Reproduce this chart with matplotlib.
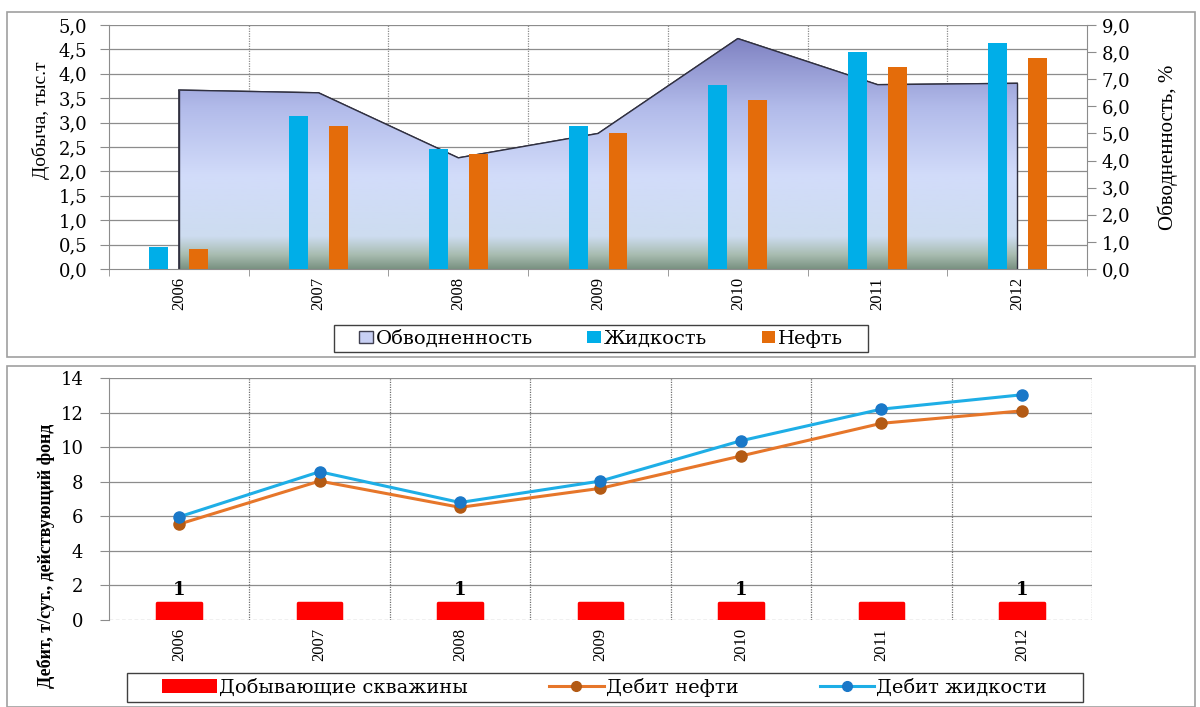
import matplotlib.pyplot as plt
import numpy as np
from matplotlib.colors import LinearSegmentedColormap
from matplotlib.patches import Rectangle, Patch
from matplotlib.lines import Line2D

plt.rcParams['font.family'] = ['Liberation Serif', 'DejaVu Serif']
NARROW = ['Liberation Serif', 'DejaVu Serif']  # повёрнутые надписи
WIDE = ['DejaVu Serif', 'Liberation Serif']    # горизонтальные надписи в оригинале растянуты

years = ['2006', '2007', '2008', '2009', '2010', '2011', '2012']
zhidkost = [0.45, 3.13, 2.45, 2.94, 3.77, 4.44, 4.64]     # тыс.т
neft = [0.42, 2.94, 2.36, 2.78, 3.46, 4.13, 4.32]          # тыс.т
obvod = [6.6, 6.5, 4.1, 5.0, 8.5, 6.8, 6.85]               # %

debit_zhid = [5.97, 8.58, 6.8, 8.04, 10.37, 12.2, 13.03]
debit_neft = [5.55, 8.04, 6.52, 7.62, 9.49, 11.38, 12.1]
skvazhiny = [1, 1, 1, 1, 1, 1, 1]

fig = plt.figure(figsize=(12, 7.07), dpi=100)
x = np.arange(len(years))

# рамки двух диаграмм и их легенд
def frame(x0, y0, w, h, color, lw):
    fig.patches.append(Rectangle((x0, y0), w, h, transform=fig.transFigure,
                                 fill=False, ec=color, lw=lw, zorder=5))

frame(0.006, 0.495, 0.99, 0.488, '#a0a0a0', 1.2)
frame(0.006, 0.0, 0.99, 0.483, '#a0a0a0', 1.2)
frame(0.2783, 0.5021, 0.445, 0.0382, '#404040', 1.0)
frame(0.1058, 0.0071, 0.7967, 0.041, '#404040', 1.0)

# ---------- верхняя диаграмма ----------
ax = fig.add_axes([0.0908, 0.6195, 0.8152, 0.3451])
ax2 = ax.twinx()
ax.set_zorder(2)
ax.patch.set_visible(False)

grad = LinearSegmentedColormap.from_list('g', [
    (0.0, '#7a9282'), (0.06, '#a8bcb0'), (0.14, '#cddcf0'),
    (0.4, '#d2dcfa'), (0.7, '#b2bbea'), (1.0, '#7f82c2')])
poly = ax2.fill_between(x, obvod, 0, color='none', ec='#303040', lw=1.0)
img = ax2.imshow(np.linspace(0, 1, 256).reshape(-1, 1), cmap=grad, aspect='auto',
                 origin='lower', extent=[x[0], x[-1], 0, max(obvod)], zorder=1)
img.set_clip_path(poly.get_paths()[0], transform=ax2.transData)
ax2.plot(x, obvod, color='#303040', lw=1.0, zorder=3)
ax2.vlines([x[0], x[-1]], 0, [obvod[0], obvod[-1]], color='#303040', lw=1.0, zorder=3)

w = 0.135
ax.bar(x - 0.143, zhidkost, w, color='#00aee8', zorder=3)
ax.bar(x + 0.143, neft, w, color='#e46c0a', zorder=3)

ax.set_xlim(-0.5, 6.5)
ax.set_ylim(0, 5)
ax2.set_ylim(0, 9)
ax2.set_xlim(-0.5, 6.5)
ax.set_yticks(np.arange(0, 5.01, 0.5))
ax.set_yticklabels([f'{v:.1f}'.replace('.', ',') for v in np.arange(0, 5.01, 0.5)],
                   family=WIDE)
ax2.set_yticks(np.arange(0, 9.01, 1))
ax2.set_yticklabels([f'{v:.1f}'.replace('.', ',') for v in np.arange(0, 9.01, 1)],
                    family=WIDE)
for v in np.arange(0.5, 5.01, 0.5):
    ax2.axhline(v * 9 / 5, color='#8c8c8c', lw=0.9, zorder=0)
for b in np.arange(0.5, 6.5, 1):
    ax2.axvline(b, color='#8c8c8c', lw=0.9, ls=(0, (1, 1)), zorder=0)
ax.set_xticks(x)
ax.set_xticklabels(years, rotation=90, fontsize=12, family=NARROW)
ax.set_xticks(np.arange(-0.5, 6.6, 1), minor=True)
ax.tick_params(axis='x', which='major', length=0, pad=6)
ax.tick_params(axis='x', which='minor', length=5, color='#8c8c8c')
ax.tick_params(axis='y', length=6.5, color='#8c8c8c', labelsize=13, pad=9)
ax2.tick_params(axis='y', length=6.5, color='#8c8c8c', labelsize=13, pad=4)
for a in (ax, ax2):
    for s in a.spines.values():
        s.set_visible(False)
ax.spines['left'].set_visible(True)
ax.spines['left'].set_color('#8c8c8c')
ax.spines['bottom'].set_visible(True)
ax.spines['bottom'].set_color('#8c8c8c')
ax2.spines['right'].set_visible(True)
ax2.spines['right'].set_color('#8c8c8c')
ax.set_ylabel('Добыча, тыс.т', fontsize=14, family=NARROW)
ax.yaxis.set_label_coords(-0.06, 0.61)
ax2.set_ylabel('Обводненность, %', fontsize=15, family=NARROW)
ax2.yaxis.set_label_coords(1.072, 0.5)

h1 = [Patch(fc='#c8d0f4', ec='#404050', lw=1.0),
      Patch(fc='#00aee8'), Patch(fc='#e46c0a')]
fig.legend(h1, ['Обводненность', 'Жидкость', 'Нефть'], loc='center',
           bbox_to_anchor=(0.501, 0.521), ncol=3, frameon=False,
           prop={'family': WIDE, 'size': 14},
           handlelength=0.7, handleheight=0.6,
           handletextpad=0.15, columnspacing=2.8, borderpad=0.2, borderaxespad=0)

# ---------- нижняя диаграмма ----------
bx = fig.add_axes([0.0908, 0.123, 0.8192, 0.3423])
bx.bar(x, skvazhiny, 0.31, color='#ff0000', ec='#ff0000', lw=2.5,
       joinstyle='round', zorder=3)
for i in range(0, len(years), 2):
    bx.text(x[i], skvazhiny[i] + 0.72, str(skvazhiny[i]), ha='center', va='center',
            fontsize=13, fontweight='bold', family=WIDE)
bx.plot(x, debit_neft, color='#e6762a', lw=2.2, marker='o', ms=8,
        mfc='#b35a14', mec='#b35a14', zorder=4)
bx.plot(x, debit_zhid, color='#1eaee6', lw=2.2, marker='o', ms=8,
        mfc='#1a78c8', mec='#1a78c8', zorder=4)
bx.set_xlim(-0.5, 6.5)
bx.set_ylim(0, 14)
bx.set_yticks(np.arange(0, 15, 2))
bx.set_yticklabels([str(v) for v in range(0, 15, 2)], family=WIDE)
for v in np.arange(2, 15, 2):
    bx.axhline(v, color='#8c8c8c', lw=0.9, zorder=0)
bx.axhline(0, color='#8c8c8c', lw=0.9, ls=(0, (3, 2)), zorder=0)
for b in np.arange(0.5, 6.6, 1):
    bx.axvline(b, color='#707070', lw=0.9, ls=(0, (1, 1)), zorder=0)
bx.set_xticks(x)
bx.set_xticklabels(years, rotation=90, fontsize=12, family=NARROW)
bx.tick_params(axis='x', length=0, pad=6)
bx.tick_params(axis='y', length=6.5, color='#8c8c8c', labelsize=13, pad=12)
for s in bx.spines.values():
    s.set_visible(False)
bx.spines['left'].set_visible(True)
bx.spines['left'].set_color('#8c8c8c')
bx.set_ylabel('Дебит, т/сут., действующий фонд', fontsize=13, fontweight='bold',
              family=NARROW)
bx.yaxis.set_label_coords(-0.055, 0.264)

h2 = [Patch(fc='#ff0000'),
      Line2D([], [], color='#e6762a', lw=2.2, marker='o', ms=7, mfc='#b35a14', mec='#b35a14'),
      Line2D([], [], color='#1eaee6', lw=2.2, marker='o', ms=7, mfc='#1a78c8', mec='#1a78c8')]
fig.legend(h2, ['Добывающие скважины', 'Дебит нефти', 'Дебит жидкости'], loc='center',
           bbox_to_anchor=(0.504, 0.0276), ncol=3, frameon=False,
           prop={'family': WIDE, 'size': 14},
           handlelength=2.8, handleheight=0.7,
           handletextpad=0.1, columnspacing=4.2, borderpad=0.2, borderaxespad=0)

fig.savefig('out.png', dpi=100)
